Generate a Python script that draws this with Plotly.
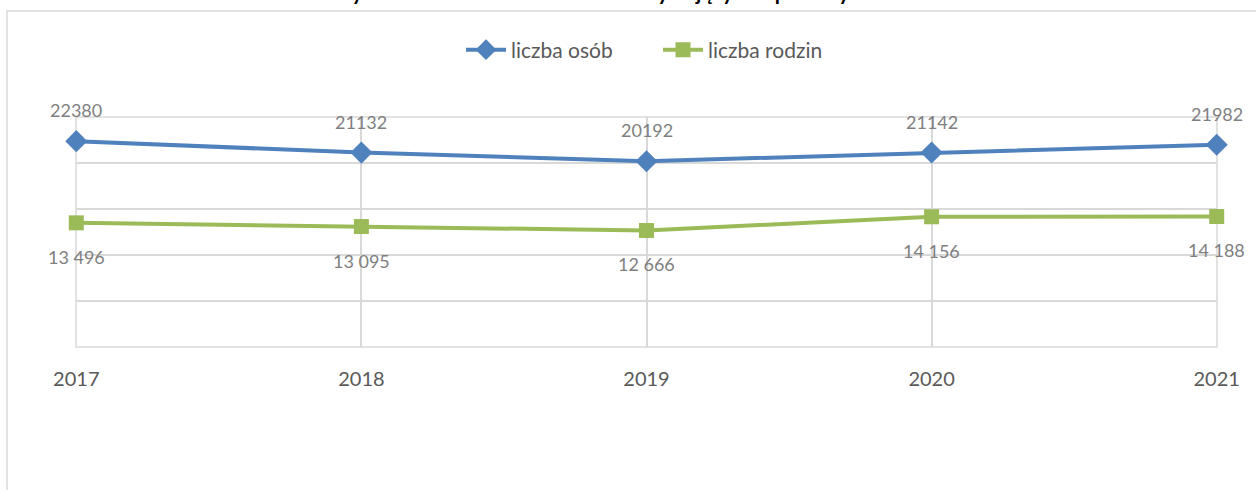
import plotly.graph_objects as go

years = [2017, 2018, 2019, 2020, 2021]
year_labels = ["2017", "2018", "2019", "2020", "2021"]
osoby = [22380, 21132, 20192, 21142, 21982]
rodziny = [13496, 13095, 12666, 14156, 14188]
series_names = ["liczba osób", "liczba rodzin"]
title_text = "Wykres 1. Liczba osób i rodzin korzystających z pomocy"

BLUE = "#4f81bd"
GREEN = "#9bbb59"
GRID = "#d9d9d9"
LABEL = "#7f7f7f"
FONT = "Lato"

W, H = 1256, 490
L, R, T, B = 76, 39, 117, 143
PW, PH = W - L - R, H - T - B

def px_x(p):
    return (p - L) / PW

def px_y(p):
    return (H - B - p) / PH

fig = go.Figure()
fig.add_trace(go.Scatter(
    x=years, y=osoby, name=series_names[0], mode="lines+markers",
    line=dict(color=BLUE, width=4),
    marker=dict(symbol="diamond", size=17, color=BLUE),
    cliponaxis=False,
))
fig.add_trace(go.Scatter(
    x=years, y=rodziny, name=series_names[1], mode="lines+markers",
    line=dict(color=GREEN, width=4),
    marker=dict(symbol="square", size=15, color=GREEN),
    cliponaxis=False,
))

annotations = []
for yr, v in zip(years, osoby):
    annotations.append(dict(x=yr, y=v, xref="x", yref="y", text=str(v),
                            showarrow=False, yshift=31,
                            font=dict(family=FONT, size=18, color=LABEL)))
for yr, v in zip(years, rodziny):
    annotations.append(dict(x=yr, y=v, xref="x", yref="y",
                            text=f"{v:,}".replace(",", " "),
                            showarrow=False, yshift=-34,
                            font=dict(family=FONT, size=18, color=LABEL)))
# title (cut off at the top of the picture, as in the reference)
annotations.append(dict(x=px_x(590), y=px_y(6), xref="paper", yref="paper",
                        xanchor="center", yanchor="bottom", showarrow=False,
                        text="<b>" + title_text + "</b>",
                        font=dict(family=FONT, size=21, color="#000000")))

shapes = [
    # outer chart border
    dict(type="rect", xref="paper", yref="paper",
         x0=px_x(7), x1=px_x(W + 10), y0=px_y(H + 10), y1=px_y(11),
         line=dict(color=GRID, width=1.5), fillcolor="rgba(0,0,0,0)", layer="below"),
    # plot area frame (edge gridlines)
    dict(type="rect", xref="paper", yref="paper", x0=0, x1=1, y0=0, y1=1,
         line=dict(color=GRID, width=1.5), fillcolor="rgba(0,0,0,0)", layer="below"),
]

fig.update_layout(
    width=W, height=H,
    margin=dict(l=L, r=R, t=T, b=B, autoexpand=False),
    paper_bgcolor="white", plot_bgcolor="white",
    font=dict(family=FONT, color="#595959"),
    showlegend=True,
    legend=dict(orientation="h", x=px_x(658), xanchor="center",
                y=px_y(50), yanchor="middle",
                font=dict(family=FONT, size=21, color="#595959"),
                itemwidth=40, entrywidth=142, entrywidthmode="pixels",
                bgcolor="rgba(0,0,0,0)"),
    annotations=annotations,
    shapes=shapes,
    xaxis=dict(range=[2016.999, 2021.001], tickvals=years, ticktext=year_labels,
               showgrid=True, gridcolor=GRID, gridwidth=1.5,
               showline=False, zeroline=False, ticks="",
               tickfont=dict(family=FONT, size=20, color="#595959"),
               ticklabelstandoff=18),
    yaxis=dict(range=[-5, 25005], tickvals=[0, 5000, 10000, 15000, 20000, 25000],
               showgrid=True, gridcolor=GRID, gridwidth=1.5,
               showticklabels=False, zeroline=False, showline=False, ticks=""),
)

fig.write_html("out.html", config={"displayModeBar": False},
               post_script="document.body.style.margin='0';document.body.style.padding='0';")
